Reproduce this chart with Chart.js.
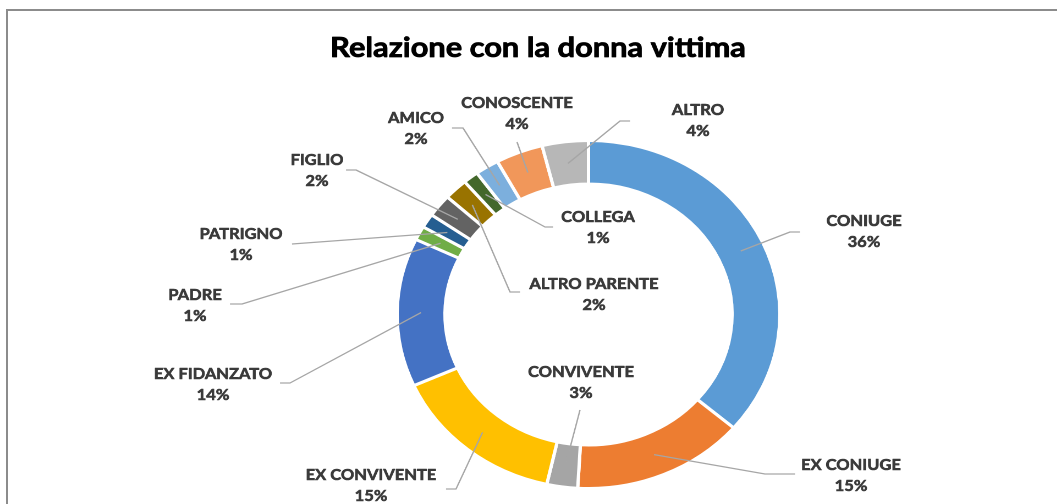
<!DOCTYPE html>
<html>
<head>
<meta charset="utf-8">
<script src="https://cdn.jsdelivr.net/npm/chart.js@4.4.1/dist/chart.umd.min.js"></script>
<style>
  html, body { margin: 0; padding: 0; background: #fff; width: 1057px; height: 504px; overflow: hidden; }
  #frame { position: absolute; left: 6px; top: 9px; width: 1100px; height: 600px;
           border-left: 2px solid #8c8c8c; border-top: 2px solid #8c8c8c; }
  /* the source picture is stretched horizontally, so is the canvas */
  #wrap { position: absolute; left: 0; top: 0; width: 961px; height: 504px;
          transform: scaleX(1.1); transform-origin: 0 0; }
</style>
</head>
<body>
<div id="frame"></div>
<div id="wrap"><canvas id="donut" width="961" height="504"></canvas></div>
<script>
const titleText = 'Relazione con la donna vittima';
const categories = ['CONIUGE', 'EX CONIUGE', 'CONVIVENTE', 'EX CONVIVENTE', 'EX FIDANZATO', 'PADRE',
                    'PATRIGNO', 'FIGLIO', 'ALTRO PARENTE', 'COLLEGA', 'AMICO', 'CONOSCENTE', 'ALTRO'];
const values = [36.3, 14.6, 2.6, 14.8, 13.8, 1.3, 1.3, 2.1, 2.0, 1.3, 2.0, 4.0, 3.9];
const colors = ['#5b9bd5', '#ed7d31', '#a5a5a5', '#ffc000', '#4472c4', '#70ad47',
                '#255e91', '#636363', '#997300', '#43682b', '#7cafdd', '#f1975a', '#b7b7b7'];

const STRETCH = 1.1;
// label block centre + leader line bends, page pixels
const labelLayout = [
  { x: 864, y: 221, path: [[790, 232], [800, 232]] },
  { x: 851, y: 465, path: [[765, 474], [795, 474]] },
  { x: 581, y: 372, path: [[580, 410]] },
  { x: 371, y: 475, path: [[456, 489], [446, 489]] },
  { x: 213, y: 374, path: [[290, 383], [280, 383]] },
  { x: 195, y: 295, path: [[242, 304], [230, 304]] },
  { x: 241, y: 234, path: [[292, 244]] },
  { x: 317, y: 160, path: [[356, 170], [346, 170]] },
  { x: 594, y: 284, path: [[510, 292], [520, 292]] },
  { x: 598, y: 217, path: [[545, 227], [553, 227]] },
  { x: 416, y: 118, path: [[463, 128], [452, 128]] },
  { x: 517, y: 103, path: [[517, 142]] },
  { x: 698, y: 110, path: [[620, 121], [630, 121]] }
];

// bold text drawn twice so it looks as heavy as the original
function heavyText(ctx, txt, x, y, w) {
  ctx.lineWidth = w;
  ctx.strokeText(txt, x, y);
  ctx.fillText(txt, x, y);
}

const outerLabels = {
  id: 'outerLabels',
  afterDatasetsDraw(chart) {
    const ctx = chart.ctx;
    const arcs = chart.getDatasetMeta(0).data;
    ctx.save();
    ctx.textAlign = 'center';
    ctx.textBaseline = 'middle';
    ctx.lineJoin = 'round';
    ctx.fillStyle = '#000';
    ctx.strokeStyle = '#000';
    ctx.font = 'bold 28px Lato';
    heavyText(ctx, titleText, 538 / STRETCH, 48, 0.8);

    arcs.forEach((arc, i) => {
      const p = arc.tooltipPosition();
      const lay = labelLayout[i];
      ctx.strokeStyle = '#a6a6a6';
      ctx.lineWidth = 1.3;
      ctx.beginPath();
      ctx.moveTo(p.x, p.y);
      lay.path.forEach(([x, y]) => ctx.lineTo(x / STRETCH, y));
      ctx.stroke();

      ctx.fillStyle = '#3a3a3a';
      ctx.strokeStyle = '#3a3a3a';
      ctx.font = 'bold 15px Lato';
      heavyText(ctx, categories[i], lay.x / STRETCH, lay.y, 0.6);
      heavyText(ctx, Math.round(values[i]) + '%', lay.x / STRETCH, lay.y + 21, 0.6);
    });
    ctx.restore();
  }
};

const donut = new Chart(document.getElementById('donut'), {
  type: 'doughnut',
  data: {
    labels: categories,
    datasets: [{
      data: values,
      backgroundColor: colors,
      borderColor: '#ffffff',
      borderWidth: 3
    }]
  },
  options: {
    responsive: false,
    animation: false,
    devicePixelRatio: 2,
    cutout: '75%',
    layout: { padding: { top: 139, bottom: 14, left: 350, right: 241 } },
    plugins: {
      legend: { display: false },
      tooltip: { enabled: false }
    }
  },
  plugins: [outerLabels]
});
</script>
</body>
</html>
